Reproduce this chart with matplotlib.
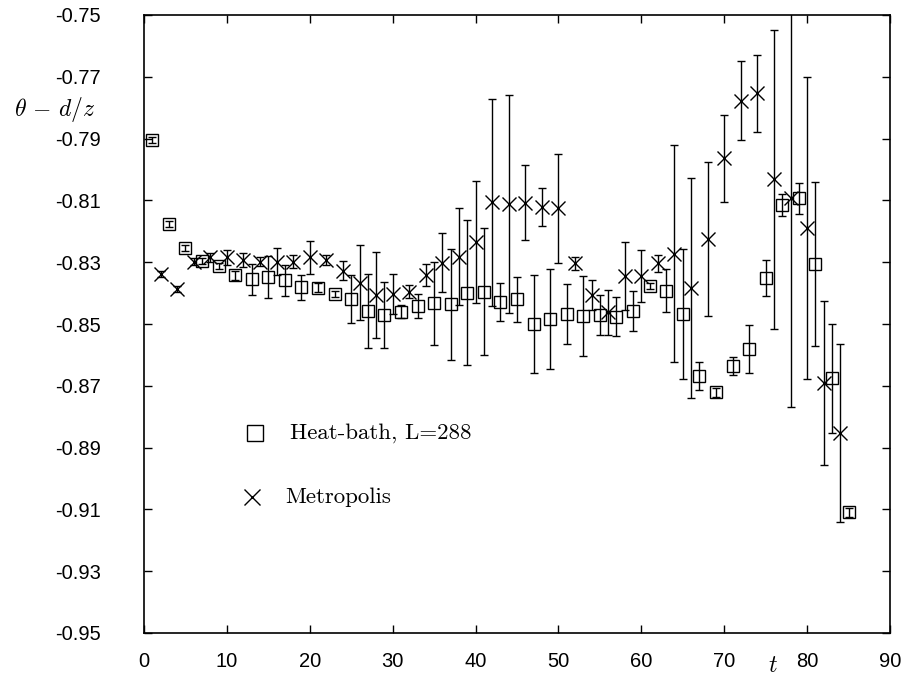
import numpy as np
import matplotlib
matplotlib.use('Agg')
import matplotlib.pyplot as plt

plt.rcParams['axes.unicode_minus'] = False
plt.rcParams['mathtext.fontset'] = 'cm'

# Heat-bath (odd t)
t_hb = [1, 3, 5, 7, 9, 11, 13, 15, 17, 19, 21, 23, 25, 27, 29, 31, 33, 35, 37, 39, 41, 43,
        45, 47, 49, 51, 53, 55, 57, 59, 61, 63, 65, 67, 69, 71, 73, 75, 77, 79, 81, 83, 85]
val_hb = [-0.7905, -0.8177, -0.8255, -0.8296, -0.8312, -0.8342, -0.8355, -0.8349, -0.8358,
          -0.8381, -0.8382, -0.8403, -0.8420, -0.8458, -0.8471, -0.8460, -0.8442, -0.8433,
          -0.8436, -0.8399, -0.8395, -0.8428, -0.8420, -0.8500, -0.8484, -0.8468, -0.8474,
          -0.8471, -0.8476, -0.8458, -0.8377, -0.8392, -0.8468, -0.8668, -0.8721, -0.8636,
          -0.8582, -0.8352, -0.8115, -0.8093, -0.8305, -0.8676, -0.9110]
err_hb = [0.001, 0.001, 0.001, 0.001, 0.001, 0.0015, 0.005, 0.0068, 0.005, 0.004, 0.0015,
          0.001, 0.0078, 0.0119, 0.0107, 0.002, 0.0038, 0.0134, 0.0179, 0.0234, 0.0205, 0.0061,
          0.0072, 0.0159, 0.0161, 0.0097, 0.013, 0.0066, 0.0064, 0.0066, 0.001, 0.007, 0.021,
          0.0045, 0.0015, 0.0028, 0.0078, 0.0058, 0.0035, 0.005, 0.0266, 0.0176, 0.0015]

# Metropolis (even t)
t_met = [2, 4, 6, 8, 10, 12, 14, 16, 18, 20, 22, 24, 26, 28, 30, 32, 34, 36, 38, 40, 42,
         44, 46, 48, 50, 52, 54, 56, 58, 60, 62, 64, 66, 68, 70, 72, 74, 76, 78, 80, 82, 84]
val_met = [-0.8338, -0.8388, -0.8298, -0.8284, -0.8284, -0.8293, -0.8298, -0.8298, -0.8298,
           -0.8284, -0.8293, -0.8327, -0.8366, -0.8406, -0.8403, -0.8395, -0.8341, -0.8302,
           -0.8282, -0.8234, -0.8106, -0.8113, -0.8107, -0.8122, -0.8126, -0.8304, -0.8406,
           -0.8462, -0.8345, -0.8345, -0.8304, -0.8272, -0.8383, -0.8226, -0.7964, -0.7777,
           -0.7753, -0.8031, -0.8093, -0.8190, -0.8692, -0.8852]
err_met = [0.001, 0.001, 0.001, 0.0015, 0.0024, 0.0022, 0.0015, 0.0043, 0.0022, 0.0054,
           0.0015, 0.003, 0.0121, 0.0138, 0.0066, 0.0022, 0.0036, 0.0096, 0.0156, 0.0197,
           0.0335, 0.0353, 0.0121, 0.0062, 0.0177, 0.002, 0.005, 0.0072, 0.011, 0.0085,
           0.0027, 0.035, 0.0356, 0.0249, 0.014, 0.0128, 0.0125, 0.0484, 0.0676, 0.0489,
           0.0265, 0.0288]

x_ticks = np.arange(0, 91, 10)
y_ticks = [-0.95, -0.93, -0.91, -0.89, -0.87, -0.85, -0.83, -0.81, -0.79, -0.77, -0.75]

fig = plt.figure(figsize=(9.07, 6.77), dpi=100)
ax = fig.add_axes([144 / 907, 1 - 633 / 677, (890 - 144) / 907, (633 - 15) / 677])

ax.errorbar(t_hb, val_hb, yerr=err_hb, fmt='s', mfc='none', mec='k', mew=1.0,
            ms=8.5, ecolor='k', elinewidth=1.0, capsize=3, capthick=1.0)
ax.errorbar(t_met, val_met, yerr=err_met, fmt='x', color='k', mew=1.0,
            ms=9.5, ecolor='k', elinewidth=1.0, capsize=3, capthick=1.0)

ax.set_xlim(0, 90)
ax.set_ylim(-0.95, -0.75)
ax.set_xticks(x_ticks)
ax.set_yticks(y_ticks)
ax.set_yticklabels([f'{v:.2f}' for v in y_ticks])
ax.tick_params(direction='in', length=6, width=1, top=True, right=True,
               labelsize=14.5, colors='k')
ax.tick_params(axis='y', pad=31)
ax.tick_params(axis='x', pad=14)
for lab in ax.get_xticklabels() + ax.get_yticklabels():
    lab.set_fontfamily('Liberation Sans')
for sp in ax.spines.values():
    sp.set_linewidth(1.2)

fig.text(55 / 907, 1 - 110 / 677, r'$\theta \,-\, d/z$', fontsize=17, ha='center', va='center')
fig.text(773 / 907, 1 - 665 / 677, r'$t$', fontsize=17, ha='center', va='center')

# legend drawn by hand, like the original key
def px(x, y):
    return ((x - 144) / 746, (633 - y) / 618)

ax.plot(*px(255, 433), ls='none', marker='s', mfc='none', mec='k', ms=11, mew=1.0,
        transform=ax.transAxes, clip_on=False)
ax.plot(*px(252, 497), ls='none', marker='x', color='k', ms=11, mew=1.0,
        transform=ax.transAxes, clip_on=False)
ax.text(*px(290, 433), 'Heat-bath, L=288', family='cmr10', fontsize=16.5,
        ha='left', va='center', transform=ax.transAxes)
ax.text(*px(285, 497), 'Metropolis', family='cmr10', fontsize=16.5,
        ha='left', va='center', transform=ax.transAxes)

fig.savefig('out.png', dpi=100)
